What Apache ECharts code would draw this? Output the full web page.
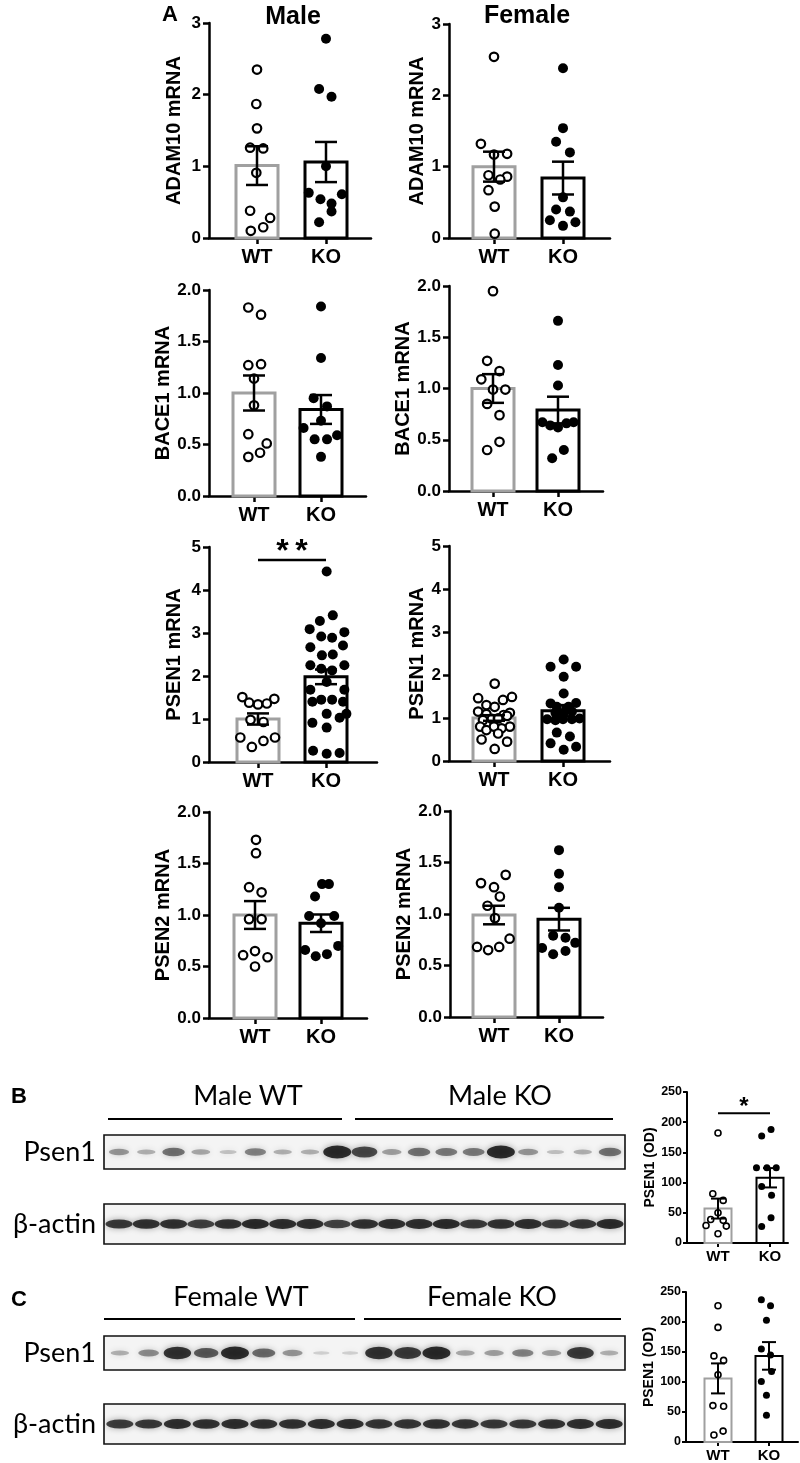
<!DOCTYPE html>
<html><head><meta charset="utf-8">
<script src="https://cdn.jsdelivr.net/npm/echarts@6/dist/echarts.min.js"></script>
<style>html,body{margin:0;padding:0;background:#fff}#c{width:800px;height:1463px}</style>
</head><body><div id="c"></div>
<script>
// ---------- DATA ----------
const groups = ['WT', 'KO'];

const adam10MaleWT = [2.35,1.87,1.53,1.26,1.25,0.91,0.38,0.28,0.15,0.10];
const adam10MaleWTjit = [0,-0.01,0,-0.10,0.09,-0.01,-0.10,0.19,0.09,-0.09];
const adam10MaleKO = [2.78,2.08,1.97,1.00,0.63,0.61,0.54,0.48,0.37,0.22];
const adam10MaleKOjit = [0,-0.10,0.08,0,-0.25,0.23,-0.08,0.08,0.08,-0.10];
const adam10MaleMeans = [1.01,1.06];
const adam10MaleSEM = [0.27,0.28];

const adam10FemaleWT = [2.54,1.32,1.17,1.18,0.88,0.86,0.82,0.67,0.44,0.06];
const adam10FemaleWTjit = [0,-0.19,0,0.19,-0.08,0.19,0.09,-0.08,0.01,0.01];
const adam10FemaleKO = [2.38,1.54,1.35,1.20,0.57,0.40,0.37,0.25,0.22,0.17];
const adam10FemaleKOjit = [0,0,-0.10,0.10,0,-0.10,0.10,-0.19,0.18,0];
const adam10FemaleMeans = [1.00,0.84];
const adam10FemaleSEM = [0.21,0.23];

const bace1MaleWT = [1.83,1.76,1.27,1.28,1.14,0.88,0.60,0.51,0.42,0.38];
const bace1MaleWTjit = [-0.085,0.105,-0.085,0.105,0,0,-0.085,0.19,0.09,-0.085];
const bace1MaleKO = [1.84,1.34,0.95,0.87,0.73,0.66,0.59,0.55,0.55,0.38];
const bace1MaleKOjit = [0,0,-0.11,0.09,0,-0.26,0.24,-0.095,0.09,0];
const bace1MaleMeans = [1.00,0.84];
const bace1MaleSEM = [0.17,0.14];

const bace1FemaleWT = [1.95,1.27,1.09,1.17,0.99,0.99,0.85,0.74,0.48,0.40];
const bace1FemaleWTjit = [0,-0.09,-0.18,0.10,0,0.19,-0.09,0.10,0.10,-0.09];
const bace1FemaleKO = [1.66,1.23,1.03,0.67,0.64,0.62,0.66,0.67,0.40,0.32];
const bace1FemaleKOjit = [0,0,0,-0.24,-0.12,0,0.13,0.24,0.09,-0.09];
const bace1FemaleMeans = [1.00,0.79];
const bace1FemaleSEM = [0.14,0.13];

const psen1MaleWT = [1.51,1.47,1.38,1.34,1.36,0.98,0.93,0.57,0.57,0.49,0.35];
const psen1MaleWTjit = [-0.23,0.24,-0.13,0,0.13,-0.11,0.08,-0.26,0.25,0.08,-0.09];
const psen1MaleKO = [4.43,3.41,3.28,3.09,3.02,2.92,2.89,2.67,2.71,2.48,2.50,2.25,2.25,2.17,2.13,1.86,1.68,1.68,1.45,1.45,1.40,1.40,1.12,1.12,1.03,0.91,0.80,0.26,0.19,0.21];
const psen1MaleKOjit = [0.01,0.10,-0.09,-0.24,0.27,-0.07,0.09,-0.23,0.25,-0.06,0.10,-0.23,0.27,-0.07,0.09,0.01,-0.23,0.27,-0.07,0.09,-0.20,0.25,0.01,0.30,0.20,-0.20,0.01,-0.19,0.01,0.20];
const psen1MaleMeans = [1.00,1.98];
const psen1MaleSEM = [0.13,0.17];
const psen1MaleSigLevel = 4.7;
const psen1MaleSigText = '*\u2009*';

const psen1FemaleWT = [1.80,1.46,1.49,1.42,1.30,1.26,1.15,1.12,1.09,1.07,0.98,0.99,1.05,0.95,0.80,0.80,0.72,0.76,0.80,0.64,0.50,0.45,0.28];
const psen1FemaleWTjit = [0.01,-0.23,0.26,0.13,-0.11,0.01,-0.23,0.23,-0.11,0.14,-0.03,0.06,0.19,-0.16,-0.20,0.23,-0.11,0.11,0,0.06,-0.18,0.19,0.01];
const psen1FemaleKO = [2.36,2.19,2.19,1.96,1.57,1.34,1.35,1.26,1.26,1.12,1.12,1.15,0.97,0.95,0.97,0.97,0.99,0.66,0.57,0.41,0.33,0.26];
const psen1FemaleKOjit = [0.01,-0.18,0.19,0.01,0.01,-0.18,0.19,-0.09,0.08,-0.11,0.01,0.13,-0.23,-0.11,0,0.13,0.24,-0.09,0.10,-0.18,0.19,0.01];
const psen1FemaleMeans = [1.00,1.17];
const psen1FemaleSEM = [0.065,0.13];

const psen2MaleWT = [1.73,1.60,1.27,1.22,0.96,0.96,0.61,0.65,0.59,0.50];
const psen2MaleWTjit = [0.015,0.015,-0.09,0.10,-0.09,0.10,-0.18,0,0.19,0];
const psen2MaleKO = [1.30,1.30,1.18,0.99,0.92,0.99,0.66,0.70,0.60,0.62];
const psen2MaleKOjit = [0.015,0.12,-0.09,-0.18,0,0.20,-0.24,0.26,-0.08,0.09];
const psen2MaleMeans = [1.00,0.92];
const psen2MaleSEM = [0.135,0.085];

const psen2FemaleWT = [1.38,1.30,1.26,1.17,1.08,0.96,0.76,0.68,0.68,0.65];
const psen2FemaleWTjit = [0.18,-0.20,0,0.09,-0.10,0.015,0.24,-0.26,0.08,-0.09];
const psen2FemaleKO = [1.62,1.39,1.26,1.06,0.79,0.77,0.67,0.72,0.61,0.64];
const psen2FemaleKOjit = [0,0,0,0,-0.09,0.10,-0.26,0.25,-0.09,0.10];
const psen2FemaleMeans = [0.99,0.95];
const psen2FemaleSEM = [0.09,0.11];

const odMaleWT = [182,81.5,70.5,50,39,37.5,29,28,15.4];
const odMaleWTjit = [0,-0.10,0.10,0,-0.14,0.10,-0.23,0.16,0];
const odMaleKO = [188,177,124.5,124.5,124.5,93.7,79,42,27.5];
const odMaleKOjit = [0.02,-0.16,-0.26,-0.06,0.12,-0.16,0.03,0.02,-0.16];
const odMaleMeans = [57,108];
const odMaleSEM = [16.5,16];
const odMaleSigLevel = 215;
const odMaleSigText = '*';

const odFemaleWT = [227,191,143.5,136,112,60.7,59.6,11.6,18.2];
const odFemaleWTjit = [0,0,-0.08,0.11,0,-0.10,0.11,-0.08,0.10];
const odFemaleKO = [237,227,203,155,145,117.5,101,78,44.7];
const odFemaleKOjit = [-0.15,0.03,-0.05,-0.15,0.03,0.05,-0.15,-0.05,-0.05];
const odFemaleMeans = [106,143.5];
const odFemaleSEM = [25,23];

// Western blot band intensities (relative, 0..1), per lane
const blotMaleWTpsen1 = [0.35,0.2,0.55,0.25,0.1,0.45,0.2,0.2,1.0];
const blotMaleKOpsen1 = [0.8,0.3,0.55,0.5,0.5,1.0,0.35,0.12,0.2,0.55];
const blotMaleWTactin = [0.8,0.9,0.9,0.7,0.9,1.0,0.95,0.95,0.65];
const blotMaleKOactin = [0.9,0.95,0.95,1.0,0.8,0.9,0.95,0.75,0.85,1.0];
const blotFemaleWTpsen1 = [0.2,0.4,0.95,0.7,1.0,0.6,0.35,0.03,0.03];
const blotFemaleKOpsen1 = [0.95,0.9,1.0,0.25,0.3,0.45,0.3,0.9,0.2];
const blotFemaleWTactin = [0.75,0.8,0.95,0.9,0.95,0.9,0.9,0.95,0.95];
const blotFemaleKOactin = [0.85,0.85,0.9,0.85,0.8,0.8,0.9,0.95,0.95];

// ---------- LAYOUT / STYLE ----------
const FONT = '"Liberation Sans", Arial, sans-serif';
const BLOTFONT = 'Lato, "Open Sans", sans-serif';
const BIG = {axW:2.5, tick:6, xl:20, xm:9, yl:17, ym:8, name:20, barW:42, bw:3, pt:8.5, ptB:2.2, ptKO:10, cap:22, errW:2.5};
const SMALL = {axW:2, tick:4, xl:15, xm:6, yl:12.5, ym:5, name:14, barW:27, bw:2, pt:6, ptB:1.6, ptKO:7, cap:14, errW:2};

const panels = [
  {wt:adam10MaleWT, wtj:adam10MaleWTjit, ko:adam10MaleKO, koj:adam10MaleKOjit, m:adam10MaleMeans, s:adam10MaleSEM, name:'ADAM10 mRNA', max:3, int:1, dec:0, S:BIG, L:{ax:209,end:371,wt:257,ko:326,top:23,bottom:238,gap:25}},
  {wt:adam10FemaleWT, wtj:adam10FemaleWTjit, ko:adam10FemaleKO, koj:adam10FemaleKOjit, m:adam10FemaleMeans, s:adam10FemaleSEM, name:'ADAM10 mRNA', max:3, int:1, dec:0, S:BIG, L:{ax:449,end:610,wt:494,ko:563,top:24,bottom:238,gap:22}},
  {wt:bace1MaleWT, wtj:bace1MaleWTjit, ko:bace1MaleKO, koj:bace1MaleKOjit, m:bace1MaleMeans, s:bace1MaleSEM, name:'BACE1 mRNA', max:2, int:0.5, dec:1, S:BIG, L:{ax:209,end:366,wt:254,ko:321,top:290,bottom:496,gap:34}},
  {wt:bace1FemaleWT, wtj:bace1FemaleWTjit, ko:bace1FemaleKO, koj:bace1FemaleKOjit, m:bace1FemaleMeans, s:bace1FemaleSEM, name:'BACE1 mRNA', max:2, int:0.5, dec:1, S:BIG, L:{ax:449,end:603,wt:493,ko:558,top:286,bottom:491,gap:34}},
  {wt:psen1MaleWT, wtj:psen1MaleWTjit, ko:psen1MaleKO, koj:psen1MaleKOjit, m:psen1MaleMeans, s:psen1MaleSEM, name:'PSEN1 mRNA', max:5, int:1, dec:0, S:BIG, L:{ax:209,end:377,wt:258,ko:326,top:547,bottom:762,gap:25}, sig:psen1MaleSigLevel, sigText:psen1MaleSigText},
  {wt:psen1FemaleWT, wtj:psen1FemaleWTjit, ko:psen1FemaleKO, koj:psen1FemaleKOjit, m:psen1FemaleMeans, s:psen1FemaleSEM, name:'PSEN1 mRNA', max:5, int:1, dec:0, S:BIG, L:{ax:449,end:610,wt:494,ko:563,top:546,bottom:761,gap:22}},
  {wt:psen2MaleWT, wtj:psen2MaleWTjit, ko:psen2MaleKO, koj:psen2MaleKOjit, m:psen2MaleMeans, s:psen2MaleSEM, name:'PSEN2 mRNA', max:2, int:0.5, dec:1, S:BIG, L:{ax:209,end:367,wt:255,ko:321,top:812,bottom:1018,gap:34}},
  {wt:psen2FemaleWT, wtj:psen2FemaleWTjit, ko:psen2FemaleKO, koj:psen2FemaleKOjit, m:psen2FemaleMeans, s:psen2FemaleSEM, name:'PSEN2 mRNA', max:2, int:0.5, dec:1, S:BIG, L:{ax:450,end:603,wt:494,ko:559,top:811,bottom:1017,gap:34}},
  {wt:odMaleWT, wtj:odMaleWTjit, ko:odMaleKO, koj:odMaleKOjit, m:odMaleMeans, s:odMaleSEM, name:'PSEN1 (OD)', max:250, int:50, dec:0, S:SMALL, L:{ax:687,end:788,wt:718,ko:770,top:1092,bottom:1243,gap:30}, sig:odMaleSigLevel, sigText:odMaleSigText},
  {wt:odFemaleWT, wtj:odFemaleWTjit, ko:odFemaleKO, koj:odFemaleKOjit, m:odFemaleMeans, s:odFemaleSEM, name:'PSEN1 (OD)', max:250, int:50, dec:0, S:SMALL, L:{ax:686,end:798,wt:718,ko:769,top:1292,bottom:1443,gap:30}}
];

const grid = [], xAxis = [], yAxis = [], series = [];

panels.forEach((p, i) => {
  const L = p.L, S = p.S, unit = L.ko - L.wt;
  grid.push({left:L.ax, top:L.top, width:L.end - L.ax, height:L.bottom - L.top});
  xAxis.push({
    gridIndex:i, type:'value',
    min:-(L.wt - L.ax) / unit, max:1 + (L.end - L.ko) / unit,
    axisLine:{show:true, onZero:false, lineStyle:{color:'#000', width:S.axW}},
    axisTick:{show:true, customValues:[0,1], length:S.tick, lineStyle:{color:'#000', width:S.axW}},
    axisLabel:{show:true, customValues:[0,1], formatter:v => groups[Math.round(v)], fontFamily:FONT, fontWeight:'bold', fontSize:S.xl, color:'#000', margin:S.xm},
    splitLine:{show:false}
  });
  yAxis.push({
    gridIndex:i, type:'value', min:0, max:p.max, interval:p.int,
    name:p.name, nameLocation:'middle', nameGap:L.gap,
    nameTextStyle:{fontFamily:FONT, fontWeight:'bold', fontSize:S.name, color:'#000'},
    axisLine:{show:true, onZero:false, lineStyle:{color:'#000', width:S.axW}},
    axisTick:{show:true, length:S.tick, lineStyle:{color:'#000', width:S.axW}},
    axisLabel:{formatter:v => v.toFixed(p.dec), fontFamily:FONT, fontWeight:'bold', fontSize:S.yl, color:'#000', margin:S.ym},
    splitLine:{show:false}
  });
  const barData = p.m.map((v, k) => [k, v, p.s[k]]);
  series.push({
    type:'custom', xAxisIndex:i, yAxisIndex:i, z:1, silent:true,
    encode:{x:0, y:1}, data:barData,
    renderItem:(params, api) => {
      const x = api.value(0), m = api.value(1);
      const b = api.coord([x, 0]), t = api.coord([x, m]);
      const hw = S.barW / 2;
      return {type:'rect', shape:{x:b[0]-hw, y:t[1], width:hw*2, height:b[1]-t[1]},
        style:{fill:'#fff', stroke:x === 0 ? '#a0a0a0' : '#000', lineWidth:S.bw}};
    }
  });
  series.push({
    type:'scatter', xAxisIndex:i, yAxisIndex:i, z:2, silent:true,
    symbol:'circle', symbolSize:S.pt,
    itemStyle:{color:'#fff', borderColor:'#000', borderWidth:S.ptB, opacity:1},
    data:p.wt.map((v, k) => [0 + p.wtj[k], v])
  });
  series.push({
    type:'scatter', xAxisIndex:i, yAxisIndex:i, z:2, silent:true,
    symbol:'circle', symbolSize:S.ptKO,
    itemStyle:{color:'#000', opacity:1},
    data:p.ko.map((v, k) => [1 + p.koj[k], v])
  });
  series.push({
    type:'custom', xAxisIndex:i, yAxisIndex:i, z:3, silent:true,
    encode:{x:0, y:1}, data:barData,
    renderItem:(params, api) => {
      const x = api.value(0), m = api.value(1), e = api.value(2);
      const hi = api.coord([x, m + e]), lo = api.coord([x, m - e]);
      const hc = S.cap / 2, st = {stroke:'#000', lineWidth:S.errW};
      return {type:'group', children:[
        {type:'line', shape:{x1:hi[0], y1:hi[1], x2:lo[0], y2:lo[1]}, style:st},
        {type:'line', shape:{x1:hi[0]-hc, y1:hi[1], x2:hi[0]+hc, y2:hi[1]}, style:st},
        {type:'line', shape:{x1:lo[0]-hc, y1:lo[1], x2:lo[0]+hc, y2:lo[1]}, style:st}
      ]};
    }
  });
  if (p.sig !== undefined) {
    series.push({
      type:'line', xAxisIndex:i, yAxisIndex:i, z:3, silent:true, symbol:'none',
      lineStyle:{color:'#000', width:S.axW}, data:[[0, p.sig], [1, p.sig]]
    });
    series.push({
      type:'scatter', xAxisIndex:i, yAxisIndex:i, z:3, silent:true, symbolSize:0,
      itemStyle:{opacity:0},
      data:[[0.5, p.sig]],
      label:{show:true, position:'top', distance:S === BIG ? -8 : -6, formatter:p.sigText,
        fontFamily:FONT, fontWeight:'bold', fontSize:S === BIG ? 32 : 24, color:'#000',
        textBorderWidth:0, opacity:1}
    });
  }
});

// ---------- BLOTS ----------
const blots = [
  {wt:blotMaleWTpsen1, ko:blotMaleKOpsen1, kind:'psen1', top:1135, h:34},
  {wt:blotMaleWTactin, ko:blotMaleKOactin, kind:'actin', top:1204, h:40},
  {wt:blotFemaleWTpsen1, ko:blotFemaleKOpsen1, kind:'psen1', top:1336, h:34},
  {wt:blotFemaleWTactin, ko:blotFemaleKOactin, kind:'actin', top:1404, h:40}
];
blots.forEach((b, j) => {
  const gi = panels.length + j;
  const lanes = b.wt.concat(b.ko);
  const n = lanes.length;
  grid.push({left:104, top:b.top, width:521, height:b.h, show:true, borderColor:'#111', borderWidth:1.6, backgroundColor:'#f4f4f4'});
  xAxis.push({gridIndex:gi, type:'value', min:-0.55, max:n - 0.45, show:false});
  yAxis.push({gridIndex:gi, type:'value', min:0, max:1, show:false});
  series.push({
    type:'scatter', xAxisIndex:gi, yAxisIndex:gi, silent:true, symbol:'circle', z:2,
    data:lanes.map((v, k) => [k, 0.5, v]),
    symbolSize:val => b.kind === 'psen1' ? [16 + 12 * val[2], 3 + 10 * val[2]] : [27, 6 + 4 * val[2]],
    itemStyle:{
      color:params => {
        const v = params.value[2];
        const a = b.kind === 'psen1' ? 0.15 + 0.85 * v : 0.6 + 0.4 * v;
        return 'rgba(5,5,5,' + a.toFixed(3) + ')';
      },
      shadowBlur:6, shadowColor:'rgba(0,0,0,0.45)'
    }
  });
});

// ---------- TEXT / ANNOTATIONS ----------
function txt(text, x, y, size, weight, family, align) {
  return {type:'text', x:x, y:y, silent:true,
    style:{text:text, fontSize:size, fontWeight:weight, fontFamily:family, fill:'#000',
      textAlign:align || 'center', align:align || 'center', textVerticalAlign:'middle', verticalAlign:'middle'}};
}
function hline(x1, x2, y) {
  return {type:'line', silent:true, shape:{x1:x1, y1:y, x2:x2, y2:y}, style:{stroke:'#000', lineWidth:2}};
}
const graphic = [
  txt('A', 170, 15, 22, 'bold', FONT),
  txt('Male', 293, 17, 25, 'bold', FONT),
  txt('Female', 527, 16, 25, 'bold', FONT),
  txt('B', 19, 1097, 22, 'bold', FONT),
  txt('C', 19, 1300, 22, 'bold', FONT),
  txt('Male WT', 248, 1096, 27, 'normal', BLOTFONT),
  txt('Male KO', 500, 1096, 27, 'normal', BLOTFONT),
  txt('Female WT', 241, 1297, 27, 'normal', BLOTFONT),
  txt('Female KO', 492, 1297, 27, 'normal', BLOTFONT),
  hline(108, 342, 1119), hline(355, 613, 1119),
  hline(104, 355, 1319), hline(364, 621, 1319),
  txt('Psen1', 96, 1152, 27, 'normal', BLOTFONT, 'right'),
  txt('β-actin', 96, 1224, 27, 'normal', BLOTFONT, 'right'),
  txt('Psen1', 96, 1353, 27, 'normal', BLOTFONT, 'right'),
  txt('β-actin', 96, 1424, 27, 'normal', BLOTFONT, 'right')
];

const chart = echarts.init(document.getElementById('c'), null, {renderer:'canvas', width:800, height:1463});
chart.setOption({
  animation:false,
  backgroundColor:'#fff',
  grid:grid, xAxis:xAxis, yAxis:yAxis, series:series,
  graphic:{elements:graphic}
});
</script>
</body></html>
